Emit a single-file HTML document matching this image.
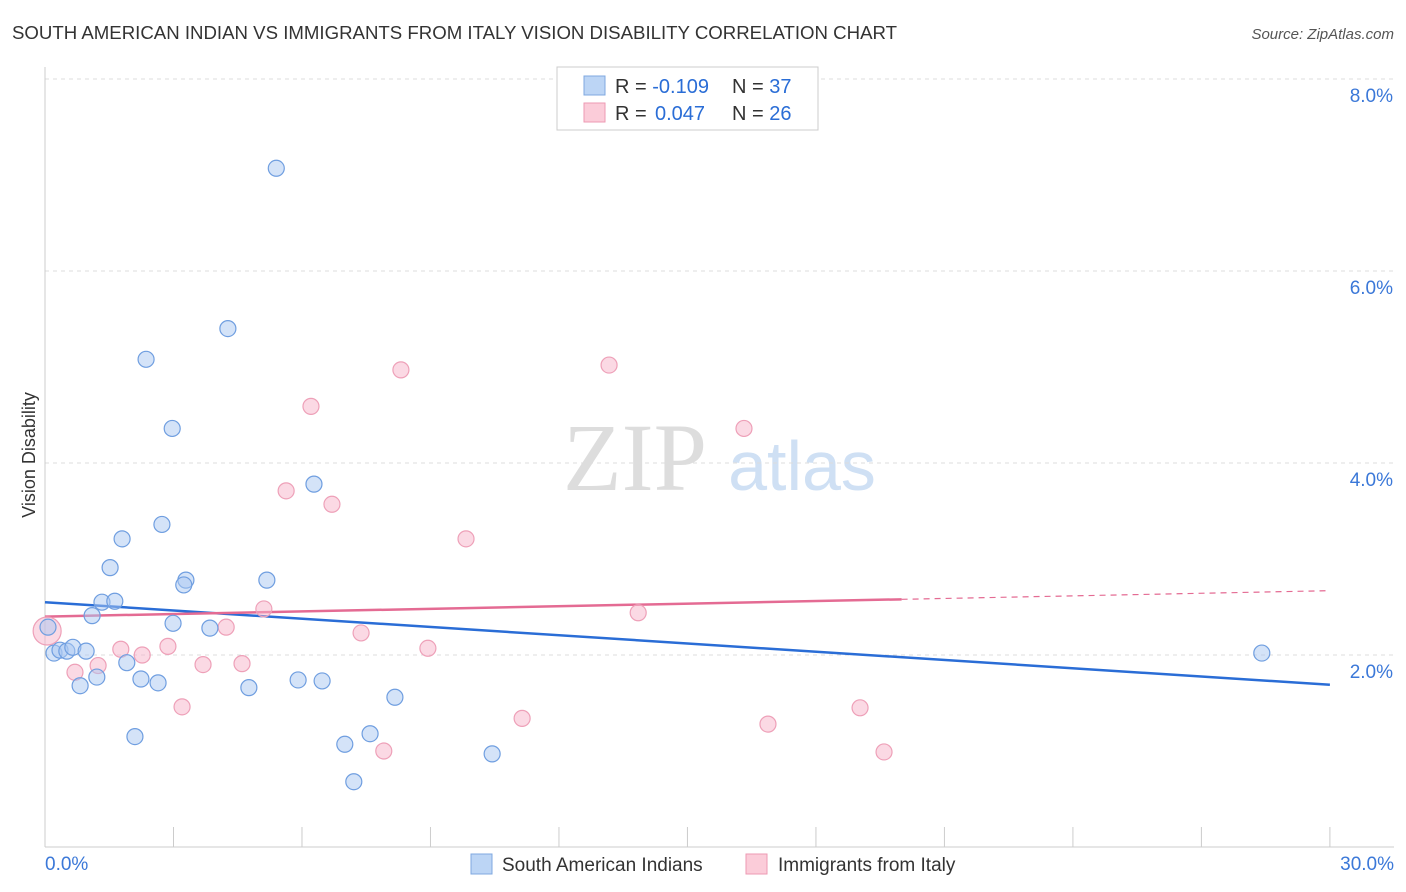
<!DOCTYPE html>
<html><head><meta charset="utf-8">
<style>
body{margin:0;background:#fff;font-family:"Liberation Sans",sans-serif;}
svg{display:block}
</style></head>
<body>
<svg id="chart" width="1406" height="892">
<text x="12" y="39" font-size="18" fill="#333" textLength="885" lengthAdjust="spacingAndGlyphs">SOUTH AMERICAN INDIAN VS IMMIGRANTS FROM ITALY VISION DISABILITY CORRELATION CHART</text>
<text x="1394" y="39" font-size="15" fill="#555" font-style="italic" text-anchor="end">Source: ZipAtlas.com</text>
<text x="35" y="455" font-size="18" fill="#333" text-anchor="middle" transform="rotate(-90 35 455)">Vision Disability</text>
<g>
<text x="635" y="490" font-size="96" fill="#ddd" font-family="Liberation Serif,serif" text-anchor="middle">ZIP</text>
<text x="802" y="490" font-size="70" fill="#cfe0f4" text-anchor="middle">atlas</text>
</g>
<g id="grid"></g>
<g id="trend"></g>
<g id="points"></g>
<g>
<rect x="557" y="67" width="261" height="63" fill="#fff" stroke="#ccc"/>
<rect x="584" y="76" width="21" height="19" fill="#bcd5f5" stroke="#7fa8e0"/>
<rect x="584" y="103" width="21" height="19" fill="#fbccd9" stroke="#ee9ab3"/>
<text x="615" y="93" font-size="20" fill="#333">R = <tspan fill="#2a6dd6">-0.109</tspan><tspan x="732">N = </tspan><tspan fill="#2a6dd6">37</tspan></text>
<text x="615" y="120" font-size="20" fill="#333">R = <tspan fill="#2a6dd6" x="655">0.047</tspan><tspan x="732">N = </tspan><tspan fill="#2a6dd6">26</tspan></text>
</g>
<g>
<rect x="471" y="854" width="21" height="20" fill="#bcd5f5" stroke="#7fa8e0"/>
<text x="502" y="871" font-size="19" fill="#333">South American Indians</text>
<rect x="746" y="854" width="21" height="20" fill="#fbccd9" stroke="#ee9ab3"/>
<text x="778" y="871" font-size="19" fill="#333">Immigrants from Italy</text>
</g>
</svg>
<script>
const yTicks=[2,4,6,8];
const xTicks=[0,3,6,9,12,15,18,21,24,27,30];
const blueX=[5.4,4.27,2.36,2.97,6.28,2.73,1.8,1.52,3.29,3.24,5.18,1.33,1.63,1.1,2.99,3.85,0.07,0.21,0.35,0.51,0.65,0.96,1.91,1.21,0.82,2.24,2.64,4.76,5.91,6.47,8.17,2.1,7.0,7.59,7.21,10.44,28.41];
const blueY=[7.07,5.4,5.08,4.36,3.78,3.36,3.21,2.91,2.78,2.73,2.78,2.55,2.56,2.41,2.33,2.28,2.29,2.02,2.05,2.04,2.08,2.04,1.92,1.77,1.68,1.75,1.71,1.66,1.74,1.73,1.56,1.15,1.07,1.18,0.68,0.97,2.02];
const pinkX=[0.05,8.31,13.17,6.21,16.32,5.63,6.7,9.83,5.11,13.85,4.23,7.38,2.87,1.77,2.27,1.24,3.69,4.6,0.7,8.94,3.2,11.14,16.88,19.03,7.91,19.59];
const pinkY=[2.25,4.97,5.02,4.59,4.36,3.71,3.57,3.21,2.48,2.44,2.29,2.23,2.09,2.06,2.0,1.89,1.9,1.91,1.82,2.07,1.46,1.34,1.28,1.45,1.0,0.99];
const X=v=>45+v*42.83, Y=v=>847-v*96;
const ns="http://www.w3.org/2000/svg";
function mk(t,a,p){const e=document.createElementNS(ns,t);for(const k in a)e.setAttribute(k,a[k]);p.appendChild(e);return e;}
const g=document.getElementById('grid');
yTicks.forEach(v=>{
 const l=mk('line',{x1:45,x2:1394,y1:Y(v),y2:Y(v),stroke:'#ddd','stroke-dasharray':'4,4'},g);
 
 
 const t=mk('text',{x:1393,y:Y(v)+23,'font-size':19,fill:'#3b78d8','text-anchor':'end'},g);t.textContent=v.toFixed(1)+'%';
 
 
});
const ax=mk('line',{x1:45,x2:45,y1:67,y2:847,stroke:'#ccc'},g);


const bx=mk('line',{x1:45,x2:1394,y1:847,y2:847,stroke:'#ccc'},g);


xTicks.forEach(v=>{
 const l=mk('line',{x1:X(v),x2:X(v),y1:827,y2:847,stroke:'#ccc'},g);
 
 
});
[[0,'0.0%','start',45],[30,'30.0%','end',1394]].forEach(d=>{
 const t=mk('text',{x:d[3],y:870,'font-size':19,fill:'#3b78d8','text-anchor':d[2]},g);t.textContent=d[1];
 
 
});
const tr=document.getElementById('trend');
const b=mk('line',{x1:X(0),y1:Y(2.55),x2:X(30),y2:Y(1.69),stroke:'#2a6dd6','stroke-width':2.5},tr);


const p=mk('line',{x1:X(0),y1:Y(2.4),x2:X(20),y2:Y(2.58),stroke:'#e46b93','stroke-width':2.5},tr);


const pd=mk('line',{x1:X(20),y1:Y(2.58),x2:X(30),y2:Y(2.67),stroke:'#e46b93','stroke-width':1.2,'stroke-dasharray':'6,5'},tr);


const pts=document.getElementById('points');
pinkX.forEach((x,i)=>{
 const c=mk('circle',{cx:X(x),cy:Y(pinkY[i]),r:i==0?14:8,fill:'rgba(248,180,202,0.5)',stroke:'#eea0b8','stroke-width':1.2},pts);
 
 
});
blueX.forEach((x,i)=>{
 const c=mk('circle',{cx:X(x),cy:Y(blueY[i]),r:8,fill:'rgba(170,200,242,0.5)',stroke:'#6f9ee0','stroke-width':1.2},pts);
 
 
});
</script>
</body></html>
